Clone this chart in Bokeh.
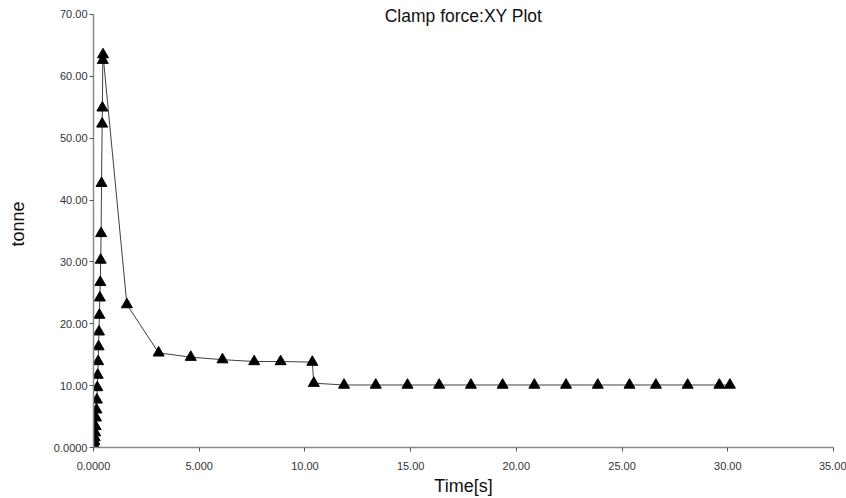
from bokeh.plotting import figure
from bokeh.models import Range1d, FixedTicker, Label
from bokeh.embed import file_html
from bokeh.resources import INLINE

# --- data ---
time_s = [0.00, 0.02, 0.04, 0.06, 0.08, 0.10, 0.12, 0.14, 0.16, 0.18,
          0.20, 0.22, 0.24, 0.26, 0.28, 0.30, 0.32, 0.34, 0.36, 0.38,
          0.41, 0.42, 0.44, 0.45,
          1.58, 3.08, 4.60, 6.10, 7.60, 8.85, 10.35, 10.42,
          11.85, 13.35, 14.85, 16.35, 17.85, 19.35, 20.85, 22.35,
          23.85, 25.35, 26.60, 28.10, 29.60, 30.10]
clamp_tonne = [0.0, 0.5, 1.0, 1.6, 2.4, 3.4, 4.8, 6.1, 7.7, 9.7,
               11.7, 13.9, 16.3, 18.7, 21.4, 24.2, 26.7, 30.3, 34.6, 42.7,
               52.3, 54.9, 62.6, 63.5,
               23.1, 15.3, 14.6, 14.2, 13.9, 13.9, 13.8, 10.4,
               10.1, 10.1, 10.1, 10.1, 10.1, 10.1, 10.1, 10.1,
               10.1, 10.1, 10.1, 10.1, 10.1, 10.1]

x_ticks = [0, 5, 10, 15, 20, 25, 30, 35]
x_tick_labels = ["0.0000", "5.000", "10.00", "15.00", "20.00", "25.00", "30.00", "35.00"]
y_ticks = [0, 10, 20, 30, 40, 50, 60, 70]
y_tick_labels = ["0.0000", "10.00", "20.00", "30.00", "40.00", "50.00", "60.00", "70.00"]

title_text = "Clamp force:XY Plot"
x_label = "Time[s]"
y_label = "tonne"

FONT = "Liberation Sans"

# extra headroom above the 70 tick so the title (drawn inside the frame) is not clipped
y_top = y_ticks[-1] + 2.25

p = figure(width=846, height=498, output_backend="svg", toolbar_location=None,
           x_range=Range1d(x_ticks[0], x_ticks[-1]),
           y_range=Range1d(y_ticks[0], y_top),
           min_border_left=93, min_border_right=13, min_border_top=0, min_border_bottom=50)
p.outline_line_color = None
p.grid.visible = False
p.background_fill_color = "white"
p.border_fill_color = "white"

p.xaxis.ticker = FixedTicker(ticks=x_ticks)
p.yaxis.ticker = FixedTicker(ticks=y_ticks)
p.yaxis.bounds = (y_ticks[0], y_ticks[-1])
p.xaxis.major_label_overrides = {t: s for t, s in zip(x_ticks, x_tick_labels)}
p.yaxis.major_label_overrides = {t: s for t, s in zip(y_ticks, y_tick_labels)}

for ax in (p.xaxis, p.yaxis):
    ax.axis_line_color = "#8a8a8a"
    ax.axis_line_width = 1.5
    ax.major_tick_line_color = "#555555"
    ax.major_tick_in = 0
    ax.major_tick_out = 4
    ax.minor_tick_line_color = None
    ax.major_label_text_font = FONT
    ax.major_label_text_font_size = "11px"
    ax.major_label_text_color = "#333333"
    ax.axis_label_text_font = FONT
    ax.axis_label_text_font_size = "18px"
    ax.axis_label_text_font_style = "normal"
    ax.axis_label_text_color = "#111111"

p.xaxis.axis_label = x_label
p.yaxis.axis_label = y_label
p.xaxis.major_label_standoff = 10
p.yaxis.major_label_standoff = 2
p.xaxis.axis_label_standoff = 3
p.yaxis.axis_label_standoff = 23

p.line(time_s, clamp_tonne, line_color="#404040", line_width=1)
p.scatter(time_s, clamp_tonne, marker="triangle", size=11,
          fill_color="black", line_color="black")

p.add_layout(Label(x=(x_ticks[0] + x_ticks[-1]) / 2, y=69.7, text=title_text,
                   text_align="center", text_baseline="alphabetic",
                   text_font=FONT, text_font_size="17.5px", text_color="#111111"))

open("out.html", "w").write(file_html(p, INLINE))
